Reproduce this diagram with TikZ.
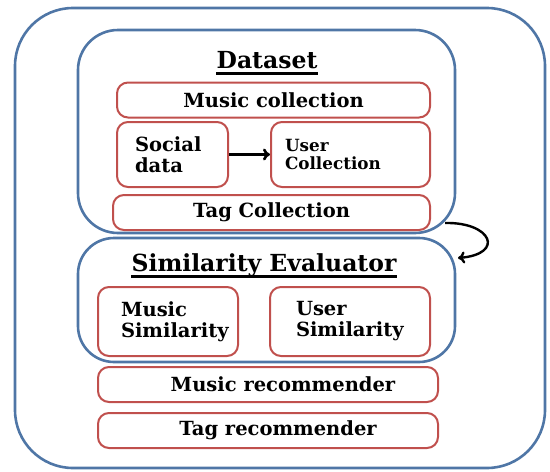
\documentclass[tikz,border=0pt]{standalone}
\usepackage{fontspec}
\setmainfont{DejaVu Serif}
\usetikzlibrary{arrows.meta}
\definecolor{bluebox}{HTML}{4F76A6}
\definecolor{redbox}{HTML}{C0504D}
\begin{document}
\begin{tikzpicture}[x=1pt,y=-1pt,
  container/.style={draw=bluebox, line width=2.6pt, rounded corners=#1, inner sep=0pt},
  item/.style={draw=redbox, line width=2pt, rounded corners=11pt, inner sep=0pt,
    font=\bfseries\fontsize{19.5}{21}\selectfont},
  title/.style={font=\bfseries\fontsize{23.5}{26}\selectfont, inner sep=0pt},
  uline/.style={line width=2.8pt, black},
  conn/.style={line width=2.6pt, black, -{To[length=7pt,width=12pt]}}
]
\useasboundingbox (0,0) rectangle (550,472);
% containers
\node[container=58pt, minimum width=530pt, minimum height=460pt] (outer) at (280,238) {};
\node[container=40pt, minimum width=377pt, minimum height=203pt] (dataset) at (266.5,131.5) {};
\node[container=36pt, minimum width=377pt, minimum height=124pt] (simeval) at (266.5,300) {};
% titles
\node[title] (dstitle) at (267,60) {Dataset};
\draw[uline] ([yshift=-5pt]dstitle.base west) -- ([yshift=-5pt]dstitle.base east);
\node[title] (setitle) at (264,265) {Similarity Evaluator};
\draw[uline] ([yshift=-5pt]setitle.base west) -- ([yshift=-5pt]setitle.base east);
% dataset items
\node[item, minimum width=313pt, minimum height=35pt] (musiccoll) at (273.5,100) {Music collection};
\node[item, minimum width=111pt, minimum height=65pt, align=left, text width=75pt] (social) at (172.5,154.5) {Social\\data};
\node[item, minimum width=159pt, minimum height=65pt, align=left, text width=131pt,
  font=\bfseries\fontsize{16.8}{18}\selectfont] (usercoll) at (350.5,154.5) {User\\Collection};
\node[item, minimum width=317pt, minimum height=35pt] (tagcoll) at (271.5,212.5) {Tag Collection};
% similarity items
\node[item, minimum width=140pt, minimum height=69pt, align=left, text width=94pt] (musicsim) at (168,321.5) {Music\\Similarity};
\node[item, minimum width=160pt, minimum height=69pt, align=left, text width=108pt] (usersim) at (350,321.5) {User\\Similarity};
% recommenders
\node[item, minimum width=340pt, minimum height=35pt] (musicrec) at (268,384.5) {\hspace*{30pt}Music recommender};
\node[item, minimum width=340pt, minimum height=35pt] (tagrec) at (268,430.5) {\hspace*{20pt}Tag recommender};
% connectors
\coordinate (loopstart) at (445,223);
\coordinate (loopend) at (458,258);
\draw[conn] (social.east) -- (usercoll.west);
\draw[line width=2.4pt, black, -{To[length=7pt,width=12pt]}]
  (loopstart) .. controls (492,222) and (505,254) .. (loopend);
\end{tikzpicture}
\end{document}
